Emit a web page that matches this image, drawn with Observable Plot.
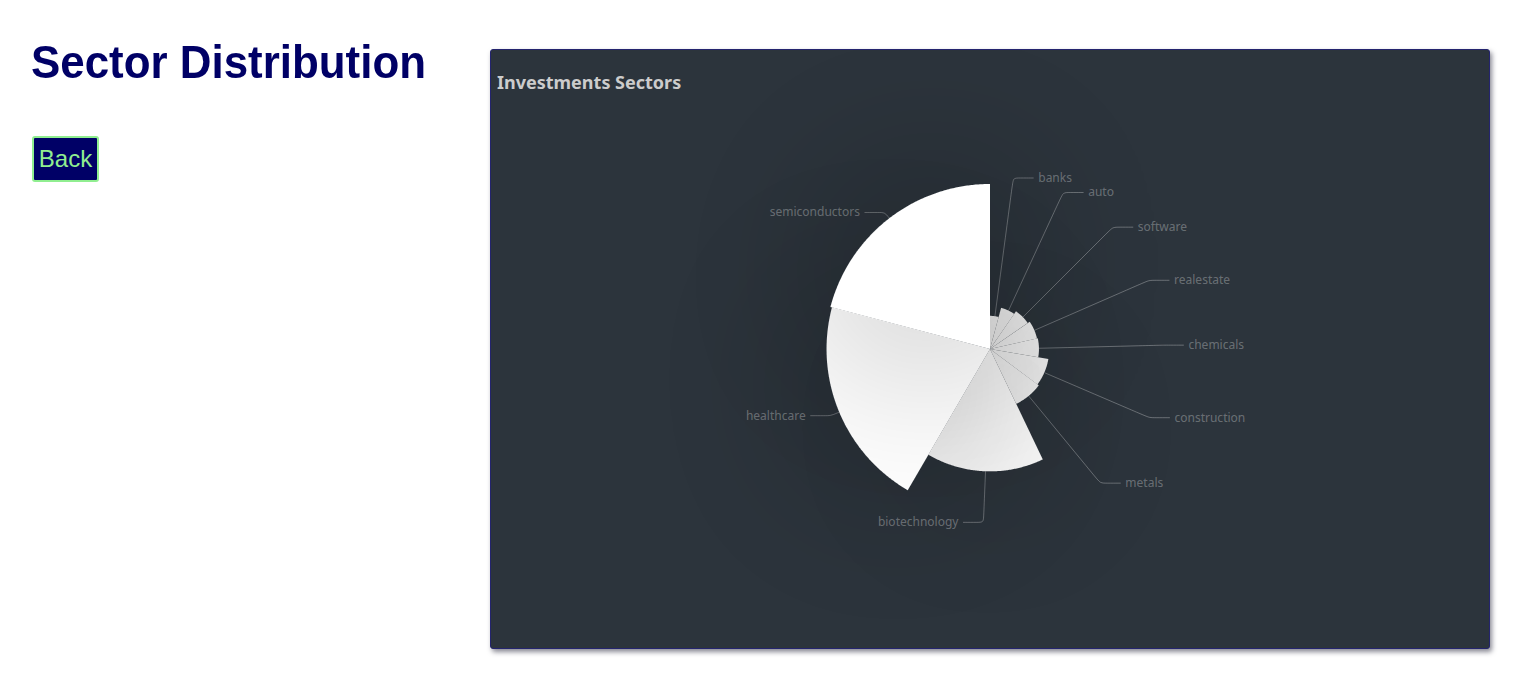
<!DOCTYPE html>
<html>
<head>
<meta charset="utf-8">
<script src="https://cdn.jsdelivr.net/npm/d3@7"></script>
<script src="https://cdn.jsdelivr.net/npm/@observablehq/plot@0.6"></script>
<style>
  html, body { margin: 0; padding: 0; background: #ffffff; width: 1530px; height: 688px; overflow: hidden; }
  #pageTitle {
    position: absolute; left: 31px; top: 39px; margin: 0; display: inline-block; transform-origin: 0 0;
    font-family: "Liberation Sans", Arial, sans-serif;
    font-weight: bold; font-size: 47px; line-height: 46px; color: #000066; white-space: nowrap;
  }
  #back {
    position: absolute; left: 32px; top: 136px; width: 67px; height: 46px; box-sizing: border-box;
    background: #000066; color: #90ee90; border: 2px solid #90ee90; border-radius: 3px;
    font-family: "Liberation Sans", Arial, sans-serif; font-size: 24px; padding: 0; line-height: 40px; text-align: center;
  }
  #card {
    position: absolute; left: 490px; top: 49px; width: 998px; height: 598px;
    background: #2c343c; border: 1px solid #24246e; border-radius: 3px;
    box-shadow: 2px 3px 5px rgba(40, 40, 60, 0.55); overflow: hidden;
  }
  #chartTitle {
    position: absolute; left: 6px; top: 23px; font-family: "Noto Sans", "Open Sans", sans-serif;
    font-weight: bold; font-size: 18px; line-height: 18px; color: #cccccc; white-space: nowrap;
  }
  #chart { position: absolute; left: 0; top: 0; }
</style>
</head>
<body>
<h1 id="pageTitle">Sector Distribution</h1>
<button id="back">Back</button>
<div id="card">
  <div id="chart"></div>
  <div id="chartTitle">Investments Sectors</div>
</div>
<script>
// ---- data (sorted ascending, as in the reference rose chart) ----
const sectors = ["banks", "auto", "software", "realestate", "chemicals", "construction", "metals", "biotechnology", "healthcare", "semiconductors"];
const weights = [4.2, 5.4, 5.8, 6.1, 6.2, 7.5, 7.7, 15.5, 20.7, 20.9];

const W = 998, H = 598;
const maxR = 165;        // 55% of half the shorter side
const bendR = 173;       // radius where label lines bend
const len2 = 20;         // horizontal part of the label line

const data = sectors.map((name, i) => ({name, value: weights[i]}));
const pie = d3.pie().sort(null).value(d => d.value).startAngle(0).endAngle(2 * Math.PI)(data);
const rOf = d3.scaleLinear().domain([0, d3.max(weights)]).range([0, maxR]);

// polygon points of each slice (rose: radius proportional to value)
const sliceGroups = [];
for (const a of pie) {
  const r = rOf(a.data.value);
  const pts = [{name: a.data.name, x: 0, y: 0}];
  const n = Math.max(2, Math.ceil((a.endAngle - a.startAngle) / (Math.PI / 360)));
  for (let k = 0; k <= n; ++k) {
    const t = a.startAngle + (a.endAngle - a.startAngle) * k / n;
    pts.push({name: a.data.name, x: r * Math.sin(t), y: r * Math.cos(t)});
  }
  sliceGroups.push(pts);
}

// label lines and label anchors
const linePts = [];
const labels = [];
for (const a of pie) {
  const m = (a.startAngle + a.endAngle) / 2;
  const s = Math.sin(m), c = Math.cos(m);
  const r = rOf(a.data.value);
  const side = s >= 0 ? 1 : -1;
  const bx = bendR * s, by = bendR * c;
  const pts = [
    [r * s, r * c],
    [(bendR - 6) * s, (bendR - 6) * c],
    [bx, by],
    [bx + side * 6, by],
    [bx + side * len2, by]
  ];
  for (const [x, y] of pts) linePts.push({name: a.data.name, x, y});
  labels.push({name: a.data.name, x: bx + side * (len2 + 5), y: by, side});
}

const labelColor = "rgba(255,255,255,0.3)";

// slices drawn through Plot's x/y scales, each with a soft shadow falling on earlier slices
function sliceMark(index, scales) {
  const g = d3.create("svg:g").attr("aria-label", "slices");
  const path = d3.line().x(p => scales.x(p.x)).y(p => scales.y(p.y)).curve(d3.curveLinearClosed);
  for (const pts of sliceGroups) {
    g.append("path").attr("d", path(pts)).attr("fill", "#ffffff").attr("filter", "url(#sliceShadow)");
  }
  return g.node();
}

const chart = Plot.plot({
  width: W, height: H,
  margin: 0,
  x: {domain: [-W / 2, W / 2], axis: null},
  y: {domain: [-H / 2, H / 2], axis: null},
  style: {background: "transparent", fontFamily: "'Noto Sans', 'Open Sans', sans-serif", fontSize: "12px"},
  marks: [
    Plot.line(linePts, {x: "x", y: "y", z: "name", stroke: labelColor, strokeWidth: 1, curve: "basis"}),
    sliceMark,
    Plot.text(labels.filter(d => d.side > 0), {x: "x", y: "y", text: "name", fill: labelColor, textAnchor: "start", fontSize: 12}),
    Plot.text(labels.filter(d => d.side < 0), {x: "x", y: "y", text: "name", fill: labelColor, textAnchor: "end", fontSize: 12})
  ]
});

const ns = "http://www.w3.org/2000/svg";
const defs = document.createElementNS(ns, "defs");
defs.innerHTML = '<filter id="sliceShadow" filterUnits="userSpaceOnUse" x="0" y="0" width="' + W + '" height="' + H + '">' +
  '<feGaussianBlur in="SourceAlpha" stdDeviation="100" result="b"/>' +
  '<feComponentTransfer in="b" result="s"><feFuncA type="linear" slope="0.5"/></feComponentTransfer>' +
  '<feMerge><feMergeNode in="s"/><feMergeNode in="SourceGraphic"/></feMerge></filter>';
chart.insertBefore(defs, chart.firstChild);

document.getElementById("chart").appendChild(chart);

// fit the condensed-looking page title to the reference width
const t = document.getElementById("pageTitle");
const w = t.getBoundingClientRect().width;
t.style.transform = "scaleX(" + (395 / w) + ")";
</script>
</body>
</html>
